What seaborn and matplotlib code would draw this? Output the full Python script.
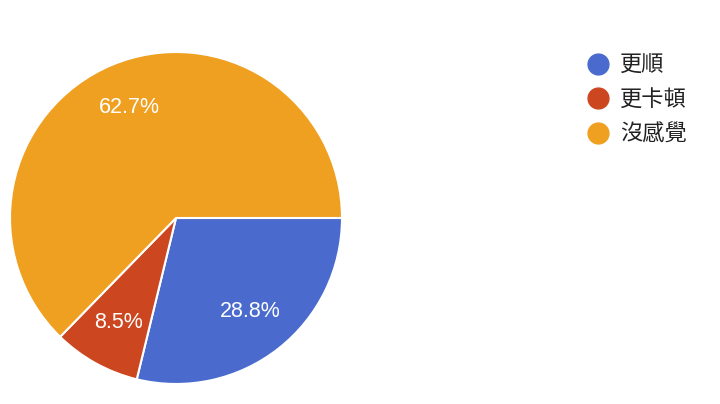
import matplotlib
matplotlib.use("Agg")
import matplotlib.pyplot as plt
from matplotlib.lines import Line2D
import seaborn as sns

# answers to the survey question
categories = ["更順", "更卡頓", "沒感覺"]
shares = [28.8, 8.5, 62.7]
colors = ["#4a6bcd", "#cc4620", "#f0a020"]

sns.set_theme(style="white")
plt.rcParams["font.family"] = ["Liberation Sans", "Noto Sans CJK TC", "DejaVu Sans"]

palette = sns.color_palette(colors)

fig = plt.figure(figsize=(7.2, 4.04), dpi=100)
ax = fig.add_axes([0.01389, 0.0495, 0.4611, 0.8218])

wedges, texts, autotexts = ax.pie(
    shares,
    colors=palette,
    startangle=0,
    counterclock=False,
    autopct="%.1f%%",
    pctdistance=0.72,
    wedgeprops={"edgecolor": "white", "linewidth": 1.5},
    textprops={"color": "white", "fontsize": 15.5},
)
ax.set_aspect("equal")
ax.set_xlim(-1, 1)
ax.set_ylim(-1, 1)

handles = [
    Line2D([0], [0], marker="o", linestyle="", markersize=15,
           markerfacecolor=c, markeredgecolor=c)
    for c in palette
]
fig.legend(
    handles, categories,
    loc="upper left", bbox_to_anchor=(0.816, 0.866),
    frameon=False, handlelength=0.95, handletextpad=0.5,
    labelspacing=0.5, borderpad=0, borderaxespad=0,
    prop={"family": ["Noto Sans CJK TC", "DejaVu Sans"], "size": 16},
    labelcolor="#222222",
)

fig.savefig("out.png", dpi=100, facecolor="white")
